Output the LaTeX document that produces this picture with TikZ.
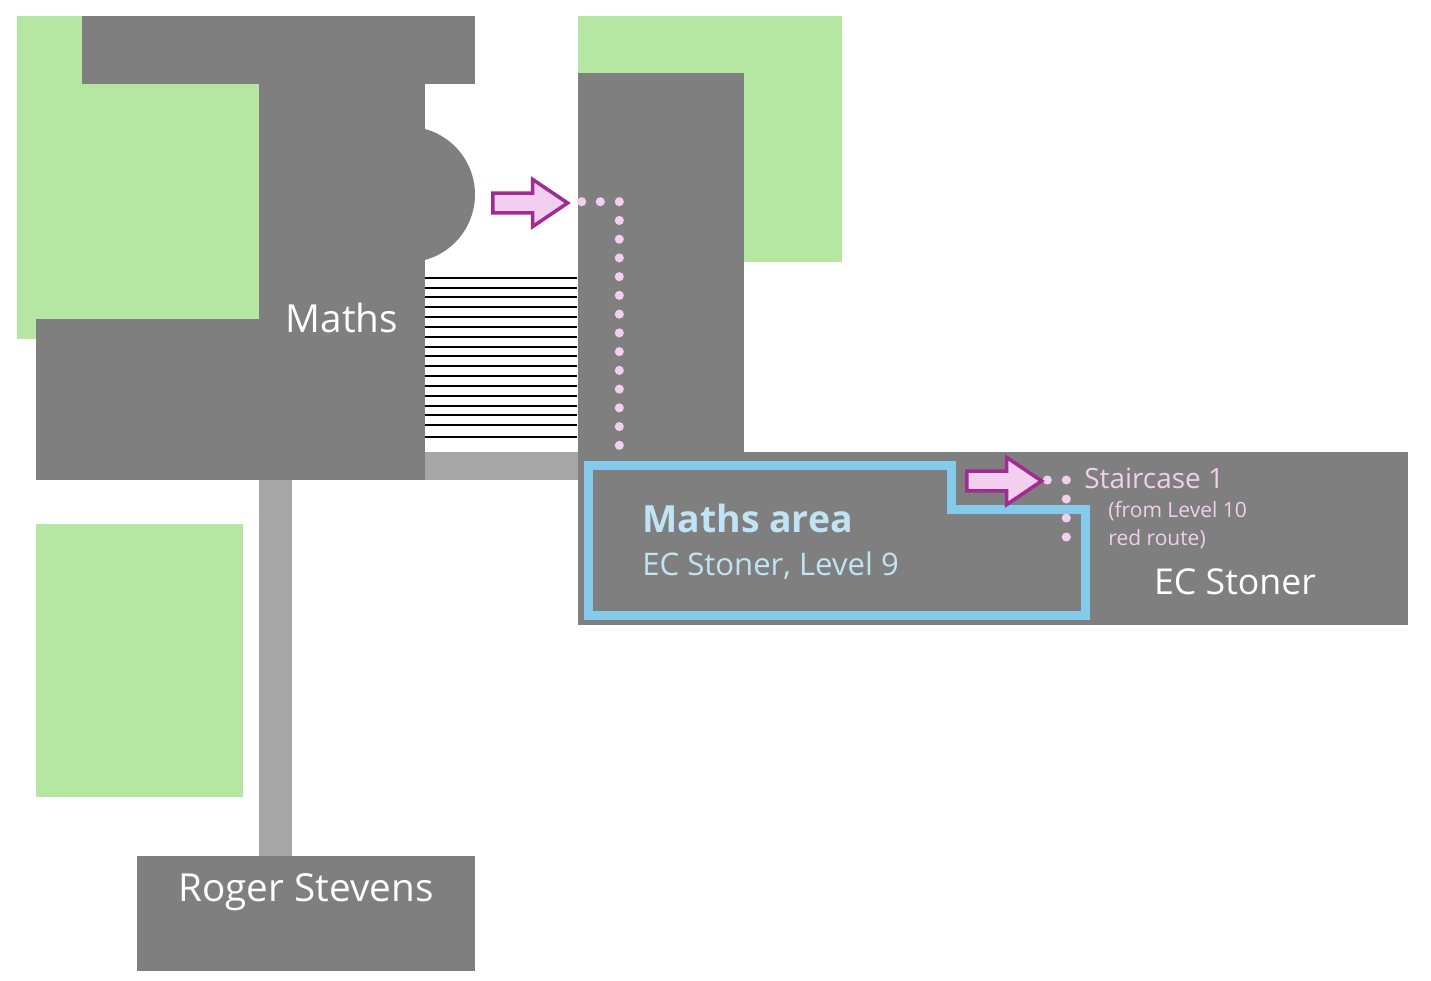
\documentclass[tikz,border=0pt]{standalone}
\usepackage{fontspec}
\setmainfont{Open Sans}
\usetikzlibrary{shapes.arrows}
\definecolor{bldg}{HTML}{7F7F7F}
\definecolor{path}{HTML}{A6A6A6}
\definecolor{lawn}{HTML}{B5E6A2}
\definecolor{area}{HTML}{83CAEB}
\definecolor{arealight}{HTML}{C1E4F5}
\definecolor{route}{HTML}{F2CEEF}
\definecolor{arrowedge}{HTML}{A02B93}
\tikzset{pt/.style={circle, fill=route, inner sep=0pt, minimum size=5.2pt}}
\tikzset{routearrow/.style={single arrow, draw=arrowedge, fill=route, line width=2pt, inner xsep=0pt, inner ysep=4.6pt,
  minimum height=42.5pt, single arrow head extend=7.8pt, single arrow head indent=0pt, single arrow tip angle=68}}
\begin{document}
\begin{tikzpicture}
[
x=0.02cm, y=-0.02cm,
lbl/.style={text=white, inner sep=0pt},
sublbl/.style={text=route, align=left, inner sep=0pt, font=\fontsize{11.95}{15.8}\selectfont}
]
\useasboundingbox (0,0) rectangle (1431,981);

% lawns
\fill[lawn] (17,16) rectangle (259,339);
\fill[lawn] (578,16) rectangle (842,262);
\fill[lawn] (36,524) rectangle (243,797);

% paths
\fill[path] (425,452) rectangle (578,480);
\fill[path] (259,480) rectangle (292,856);

% buildings
\fill[bldg] (82,16) rectangle (475,84);
\fill[bldg] (259,84) rectangle (425,330);
\fill[bldg] (36,319) rectangle (425,480);
\fill[bldg] (425,129) arc[start angle=-74.7, end angle=74.7, radius=67.9] -- cycle;
\fill[bldg] (578,73) rectangle (744,452);
\fill[bldg] (578,452) rectangle (1408,625);
\fill[bldg] (137,856) rectangle (475,971);

% covered walkway
\foreach \yy in {277.7,287.7,296.7,306.7,316.7,326.7,336.7,346.7,355.7,365.7,375.7,385.7,395.7,405.7,414.7,424.7,436.7}
  \draw[black, line width=1.2pt] (425,\yy) -- (577,\yy);

% maths area outline
\draw[area, line width=5.1pt] (588.5,465.5) -- (951.7,465.5) -- (951.7,509.5) -- (1085.5,509.5) -- (1085.5,615.3) -- (588.5,615.3) -- cycle;

% route dots
\foreach \xx in {581.7,600.3}
  \node[pt] at (\xx,201.7) {};
\foreach \n in {0,...,13}
  \node[pt] at (619.3,201.7+18.74*\n) {};
\foreach \xx/\yy in {1047.3/480,1066.3/480,1066.3/499,1066.3/518,1066.3/537}
  \node[pt] at (\xx,\yy) {};

% arrows
\node[routearrow] (arrowmaths) at (523,203) {};
\node[routearrow] (arrowstoner) at (997,481) {};

% labels
\node[lbl, font=\fontsize{22}{24}\selectfont] (maths) at (342,318) {Maths};
\node[lbl, font=\fontsize{22}{24}\selectfont] (stevens) at (306,892) {Roger Stevens};
\node[lbl, font=\fontsize{20.3}{24}\selectfont] (stoner) at (1235,582) {EC Stoner};
\node[text=arealight, anchor=west, inner sep=0pt, font=\fontsize{21.3}{24}\selectfont\bfseries] (areaname) at (642,518) {Maths area};
\node[text=arealight, anchor=west, inner sep=0pt, font=\fontsize{17.7}{20}\selectfont] (arealevel) at (642,566) {EC Stoner, Level 9};
\node[text=route, anchor=west, inner sep=0pt, font=\fontsize{15.9}{18}\selectfont] (stair) at (1084,478.5) {Staircase 1};
\node[sublbl, anchor=north west] (stairnote) at (1108,501) {(from Level 10\\red route)};
\end{tikzpicture}
\end{document}
